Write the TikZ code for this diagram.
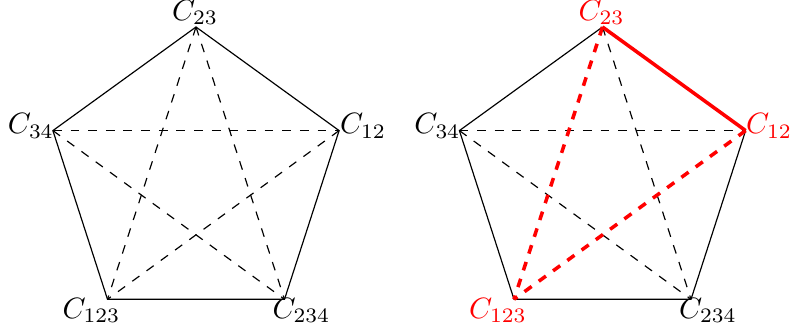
\documentclass[tikz,border=0pt]{standalone}
\usetikzlibrary{calc}
\begin{document}
\begin{tikzpicture}[x=0.34pt,y=-0.34pt,
  lab/.style={inner sep=0pt, anchor=base west},
  edge/.style={black, line width=0.4pt},
  diag/.style={black, dashed, line width=0.4pt},
  redsolid/.style={red, line width=1.2pt},
  reddash/.style={red, dashed, line width=1.2pt}]
\useasboundingbox (0,0) rectangle (790,336);
% left pentagon
\coordinate (a23) at (196,27);
\coordinate (a12) at (339.1,130.6);
\coordinate (a234) at (284.5,299.3);
\coordinate (a123) at (107.5,299.3);
\coordinate (a34) at (52.9,130.6);
% right pentagon
\coordinate (b23) at (602.5,27);
\coordinate (b12) at (745.6,130.6);
\coordinate (b234) at (691,299.3);
\coordinate (b123) at (514,299.3);
\coordinate (b34) at (459.4,130.6);
% left edges
\draw[edge] (a23) -- (a12) -- (a234) -- (a123) -- (a34) -- cycle;
\draw[diag] (a23) -- (a234);
\draw[diag] (a23) -- (a123);
\draw[diag] (a34) -- (a12);
\draw[diag] (a34) -- (a234);
\draw[diag] (a12) -- (a123);
% right edges
\draw[edge] (b12) -- (b234) -- (b123) -- (b34) -- (b23);
\draw[diag] (b23) -- (b234);
\draw[diag] (b34) -- (b12);
\draw[diag] (b34) -- (b234);
\draw[redsolid] (b23) -- (b12);
\draw[reddash] (b23) -- (b123);
\draw[reddash] (b12) -- (b123);
% labels left
\node[lab] (la23) at ($(a23)+(-24.5,-6.5)$) {$C_{23}$};
\node[lab] (la12) at ($(a12)+(0.5,3)$) {$C_{12}$};
\node[lab] (la234) at ($(a234)+(-12.5,19)$) {$C_{234}$};
\node[lab] (la123) at ($(a123)+(-45.5,19)$) {$C_{123}$};
\node[lab] (la34) at ($(a34)+(-45.5,3)$) {$C_{34}$};
% labels right
\node[lab, text=red] (lb23) at ($(b23)+(-24.5,-6.5)$) {$C_{23}$};
\node[lab, text=red] (lb12) at ($(b12)+(0,3)$) {$C_{12}$};
\node[lab] (lb234) at ($(b234)+(-12.5,19)$) {$C_{234}$};
\node[lab, text=red] (lb123) at ($(b123)+(-45.5,19)$) {$C_{123}$};
\node[lab] (lb34) at ($(b34)+(-45.5,3)$) {$C_{34}$};
\end{tikzpicture}
\end{document}
